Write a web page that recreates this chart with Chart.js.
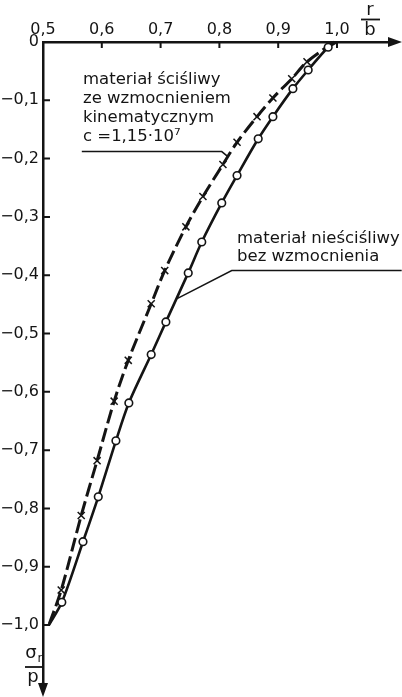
<!DOCTYPE html>
<html>
<head>
<meta charset="utf-8">
<script src="https://cdn.jsdelivr.net/npm/chart.js@4.4.1/dist/chart.umd.min.js"></script>
<style>
  html, body { margin: 0; padding: 0; background: #fff; }
  canvas { display: block; }
</style>
</head>
<body>
<canvas id="chart" width="402" height="697"></canvas>
<script>
// axis ticks
const xTicks = [0.5, 0.6, 0.7, 0.8, 0.9, 1.0];
const xTickLabels = ['0,5', '0,6', '0,7', '0,8', '0,9', '1,0'];
const yTicks = [0, -0.1, -0.2, -0.3, -0.4, -0.5, -0.6, -0.7, -0.8, -0.9, -1.0];
const yTickLabels = ['0', '−0,1', '−0,2', '−0,3', '−0,4', '−0,5', '−0,6', '−0,7', '−0,8', '−0,9', '−1,0'];

// materiał nieściśliwy bez wzmocnienia (circles, solid line)
const rIncomp = [1.0, 0.985, 0.951, 0.925, 0.891, 0.866, 0.830, 0.804, 0.770, 0.747, 0.709, 0.684, 0.646, 0.624, 0.594, 0.568, 0.532, 0.51];
const sIncomp = [0.0, -0.009, -0.048, -0.080, -0.128, -0.166, -0.229, -0.276, -0.343, -0.396, -0.480, -0.536, -0.619, -0.684, -0.780, -0.857, -0.961, -1.0];

// materiał ściśliwy ze wzmocnieniem kinematycznym (crosses, dashed line)
const rComp = [0.995, 0.949, 0.923, 0.891, 0.864, 0.830, 0.806, 0.772, 0.743, 0.707, 0.684, 0.645, 0.621, 0.592, 0.565, 0.531, 0.51];
const sComp = [0.0, -0.034, -0.063, -0.096, -0.128, -0.172, -0.210, -0.265, -0.317, -0.392, -0.449, -0.546, -0.616, -0.718, -0.812, -0.940, -1.0];

const ink = '#141414';
const tickFont = { family: 'DejaVu Sans', size: 16 };
const noteFont = '16.5px "DejaVu Sans"';

const toPoints = (xs, ys) => xs.map((v, i) => ({ x: v, y: ys[i] }));
const endsHidden = r => ctx => (ctx.dataIndex === 0 || ctx.dataIndex === ctx.dataset.data.length - 1) ? 0 : r;
const labelFor = (ticks, labels) => v => {
  const i = ticks.findIndex(t => Math.abs(t - v) < 1e-6);
  return i >= 0 ? labels[i] : '';
};

// notes, in data units
const notes = [
  { x: 0.568, y: [-0.065, -0.097, -0.130, -0.162], lines: ['materiał ściśliwy', 'ze wzmocnieniem', 'kinematycznym', 'c =1,15·10⁷'],
    leader: [[0.566, -0.188], [0.804, -0.188], [0.815, -0.197]] },
  { x: 0.830, y: [-0.338, -0.369], lines: ['materiał nieściśliwy', 'bez wzmocnienia'],
    leader: [[1.11, -0.392], [0.821, -0.392], [0.728, -0.440]] }
];

const extras = {
  id: 'extras',
  afterDraw(chart) {
    const { ctx, chartArea: a, scales: { x, y } } = chart;
    const W = chart.width, H = chart.height;
    ctx.save();
    ctx.strokeStyle = ink; ctx.fillStyle = ink;

    // inward tick marks
    ctx.lineWidth = 2;
    ctx.beginPath();
    xTicks.slice(1).forEach(v => { const p = x.getPixelForValue(v); ctx.moveTo(p, a.top); ctx.lineTo(p, a.top + 6); });
    yTicks.slice(1).forEach(v => { const p = y.getPixelForValue(v); ctx.moveTo(a.left, p); ctx.lineTo(a.left + 7, p); });
    ctx.stroke();

    // axis arrows
    ctx.lineWidth = 2.5;
    ctx.beginPath();
    ctx.moveTo(a.right - 1, a.top); ctx.lineTo(W - 8, a.top);
    ctx.moveTo(a.left, a.bottom - 1); ctx.lineTo(a.left, H - 8);
    ctx.stroke();
    ctx.beginPath();
    ctx.moveTo(W, a.top); ctx.lineTo(W - 14, a.top - 5); ctx.lineTo(W - 14, a.top + 5); ctx.closePath();
    ctx.moveTo(a.left, H); ctx.lineTo(a.left - 5, H - 14); ctx.lineTo(a.left + 5, H - 14); ctx.closePath();
    ctx.fill();

    // axis titles as fractions
    ctx.font = '18px "DejaVu Sans"';
    ctx.textAlign = 'center'; ctx.textBaseline = 'middle';
    ctx.fillText('r', 370, 10);
    ctx.fillText('b', 370, 30);
    ctx.lineWidth = 1.8;
    ctx.beginPath(); ctx.moveTo(361, 19.5); ctx.lineTo(380, 19.5); ctx.stroke();

    ctx.fillText('σ', 31, 653);
    ctx.font = '12px "DejaVu Sans"';
    ctx.fillText('r', 40, 659);
    ctx.font = '18px "DejaVu Sans"';
    ctx.fillText('p', 33, 677);
    ctx.beginPath(); ctx.moveTo(25, 667); ctx.lineTo(43, 667); ctx.stroke();

    // notes with leader lines
    ctx.font = noteFont;
    ctx.textAlign = 'left';
    ctx.lineWidth = 1.5;
    notes.forEach(n => {
      n.lines.forEach((t, i) => ctx.fillText(t, x.getPixelForValue(n.x), y.getPixelForValue(n.y[i])));
      ctx.beginPath();
      n.leader.forEach(([lx, ly], i) => {
        const px = x.getPixelForValue(lx), py = y.getPixelForValue(ly);
        i ? ctx.lineTo(px, py) : ctx.moveTo(px, py);
      });
      ctx.stroke();
    });
    ctx.restore();
  }
};

new Chart(document.getElementById('chart'), {
  type: 'scatter',
  data: {
    datasets: [
      {
        label: 'materiał nieściśliwy bez wzmocnienia',
        data: toPoints(rIncomp, sIncomp),
        showLine: true,
        borderColor: ink,
        borderWidth: 2.6,
        tension: 0.3,
        pointStyle: 'circle',
        pointRadius: endsHidden(3.8),
        pointBackgroundColor: '#fff',
        pointBorderColor: ink,
        pointBorderWidth: 1.6,
        clip: false
      },
      {
        label: 'materiał ściśliwy ze wzmocnieniem kinematycznym',
        data: toPoints(rComp, sComp),
        showLine: true,
        borderColor: ink,
        borderWidth: 3,
        borderDash: [14, 5],
        tension: 0.3,
        pointStyle: 'crossRot',
        pointRadius: endsHidden(5),
        pointBorderColor: ink,
        pointBorderWidth: 1.5,
        clip: false
      }
    ]
  },
  options: {
    responsive: false,
    animation: false,
    devicePixelRatio: 1,
    layout: { padding: { top: 0, left: 0, right: 6.2, bottom: 10.4 } },
    plugins: { legend: { display: false }, tooltip: { enabled: false } },
    scales: {
      x: {
        type: 'linear', position: 'top', min: 0.5, max: 1.1,
        afterFit: s => { s.height = 42; },
        ticks: { stepSize: 0.1, autoSkip: false, maxRotation: 0, padding: 3, color: ink, font: tickFont,
                 callback: labelFor(xTicks, xTickLabels) },
        grid: { drawOnChartArea: false, drawTicks: false },
        border: { display: true, color: ink, width: 2.5 }
      },
      y: {
        type: 'linear', min: -1.1, max: 0,
        afterFit: s => { s.width = 43; },
        ticks: { stepSize: 0.1, autoSkip: false, padding: 4, color: ink, font: tickFont,
                 callback: labelFor(yTicks, yTickLabels) },
        grid: { drawOnChartArea: false, drawTicks: false },
        border: { display: true, color: ink, width: 2.5 }
      }
    }
  },
  plugins: [extras]
});
</script>
</body>
</html>
